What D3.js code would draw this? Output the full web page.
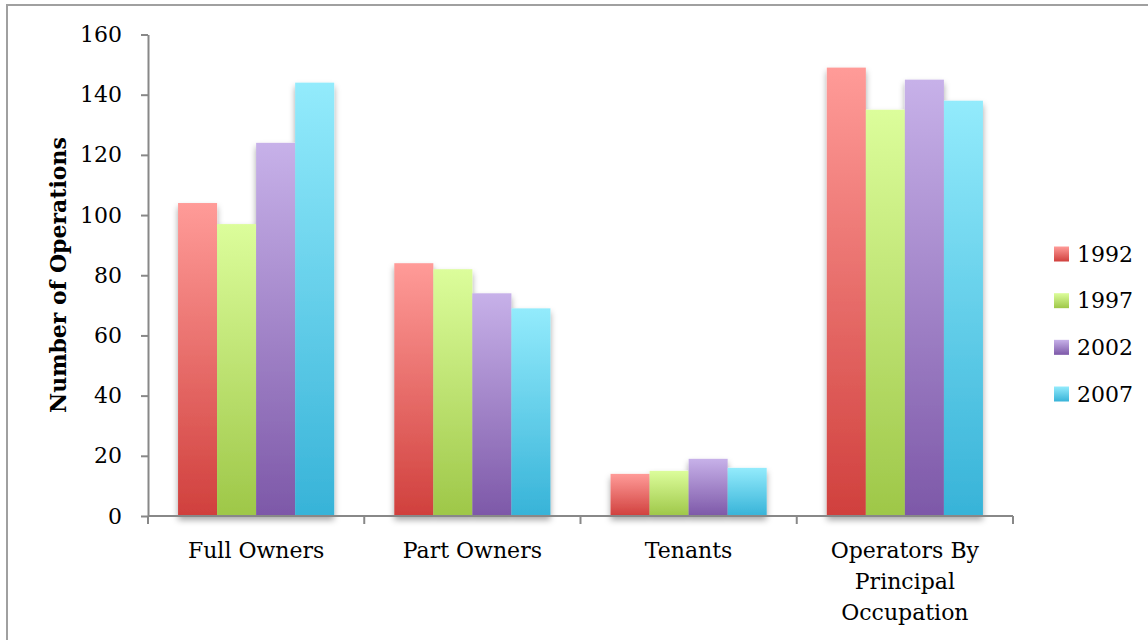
<!DOCTYPE html>
<html>
<head>
<meta charset="utf-8">
<script src="https://cdn.jsdelivr.net/npm/d3@7"></script>
<style>
  html, body { margin: 0; padding: 0; background: #fff; }
  svg { display: block; }
  text { font-family: "DejaVu Serif", "Liberation Serif", serif; fill: #000; }
</style>
</head>
<body>
<svg id="chart" width="1148" height="640"></svg>
<script>
const categories = ["Full Owners", "Part Owners", "Tenants", "Operators By Principal Occupation"];
const categoryLines = [["Full Owners"], ["Part Owners"], ["Tenants"], ["Operators By", "Principal", "Occupation"]];
const years = ["1992", "1997", "2002", "2007"];
const values1992 = [104, 84, 14, 149];
const values1997 = [97, 82, 15, 135];
const values2002 = [124, 74, 19, 145];
const values2007 = [144, 69, 16, 138];
const yTicks = [0, 20, 40, 60, 80, 100, 120, 140, 160];
const yTitle = "Number of Operations";

const seriesValues = [values1992, values1997, values2002, values2007];
const colorTop = ["#ff9b98", "#dcfd9b", "#c7b1e9", "#93ebfc"];
const colorBottom = ["#d0403d", "#9ec748", "#7d58a8", "#37b3d8"];

const svg = d3.select("#chart");
const defs = svg.append("defs");

years.forEach((yr, i) => {
  const g = defs.append("linearGradient").attr("id", "grad" + i)
    .attr("x1", 0).attr("y1", 0).attr("x2", 0).attr("y2", 1);
  g.append("stop").attr("offset", "0%").attr("stop-color", colorTop[i]);
  g.append("stop").attr("offset", "100%").attr("stop-color", colorBottom[i]);
});
const f = defs.append("filter").attr("id", "shadow")
  .attr("x", "-20%").attr("y", "-20%").attr("width", "140%").attr("height", "140%");
f.append("feDropShadow").attr("dx", 0).attr("dy", 4).attr("stdDeviation", 3)
  .attr("flood-color", "#000").attr("flood-opacity", 0.35);

// outer frame (cropped on right/bottom)
svg.append("rect").attr("x", 7).attr("y", 5).attr("width", 1160).attr("height", 660)
  .attr("fill", "none").attr("stroke", "#a0a0a0").attr("stroke-width", 2);

const plotLeft = 148, plotRight = 1013, plotTop = 34.5, plotBottom = 516;
const y = d3.scaleLinear().domain([0, 160]).range([plotBottom, plotTop]);
const x0 = d3.scaleBand().domain(categories).range([plotLeft, plotRight]).padding(0);
const x1 = d3.scaleBand().domain(years).range([0, x0.bandwidth()])
  .paddingInner(0).paddingOuter(0.77);

// bars
const groups = svg.append("g").selectAll("g").data(categories).join("g")
  .attr("transform", d => `translate(${x0(d)},0)`)
  .attr("filter", "url(#shadow)");
groups.selectAll("rect")
  .data((c, ci) => years.map((yr, si) => ({ yr, si, v: seriesValues[si][ci] })))
  .join("rect")
  .attr("x", d => x1(d.yr))
  .attr("width", x1.bandwidth())
  .attr("y", d => y(d.v))
  .attr("height", d => y(0) - y(d.v))
  .attr("fill", d => `url(#grad${d.si})`);

// y axis
const yAxis = svg.append("g").attr("transform", `translate(${plotLeft},0)`)
  .call(d3.axisLeft(y).tickValues(yTicks).tickSize(7).tickPadding(19).tickSizeOuter(0));
yAxis.select(".domain").attr("stroke", "#888").attr("stroke-width", 2);
yAxis.selectAll(".tick line").attr("stroke", "#888").attr("stroke-width", 2);
yAxis.selectAll(".tick text").attr("font-size", 22)
  .attr("font-family", "'DejaVu Serif', serif").attr("fill", "#000");

// x axis
const xAxisG = svg.append("g");
xAxisG.append("line").attr("x1", plotLeft).attr("x2", plotRight).attr("y1", plotBottom).attr("y2", plotBottom)
  .attr("stroke", "#888").attr("stroke-width", 2);
const edges = categories.map(c => x0(c)).concat([x0(categories[categories.length - 1]) + x0.bandwidth()]);
xAxisG.selectAll("line.tk").data(edges).join("line").attr("class", "tk")
  .attr("x1", d => d).attr("x2", d => d).attr("y1", plotBottom).attr("y2", plotBottom + 8)
  .attr("stroke", "#888").attr("stroke-width", 2);

const labels = svg.append("g").selectAll("text").data(categories).join("text")
  .attr("x", d => x0(d) + x0.bandwidth() / 2)
  .attr("y", 558)
  .attr("text-anchor", "middle")
  .attr("font-size", 22);
labels.each(function (d, i) {
  const t = d3.select(this);
  categoryLines[i].forEach((ln, li) => {
    t.append("tspan").attr("x", x0(d) + x0.bandwidth() / 2).attr("dy", li === 0 ? 0 : 31).text(ln);
  });
});

// y title
svg.append("text")
  .attr("transform", `translate(66,275) rotate(-90)`)
  .attr("text-anchor", "middle")
  .attr("font-size", 22).attr("font-weight", "bold")
  .text(yTitle);

// legend
const legY = d3.scalePoint().domain(years).range([254, 394]);
const leg = svg.append("g").selectAll("g").data(years).join("g")
  .attr("transform", d => `translate(1054,${legY(d)})`);
leg.append("rect").attr("x", 0).attr("y", -7.5).attr("width", 15).attr("height", 15)
  .attr("fill", (d, i) => `url(#grad${i})`);
leg.append("text").attr("x", 23).attr("y", 0).attr("dy", "0.35em")
  .attr("font-size", 22).text(d => d);
</script>
</body>
</html>
